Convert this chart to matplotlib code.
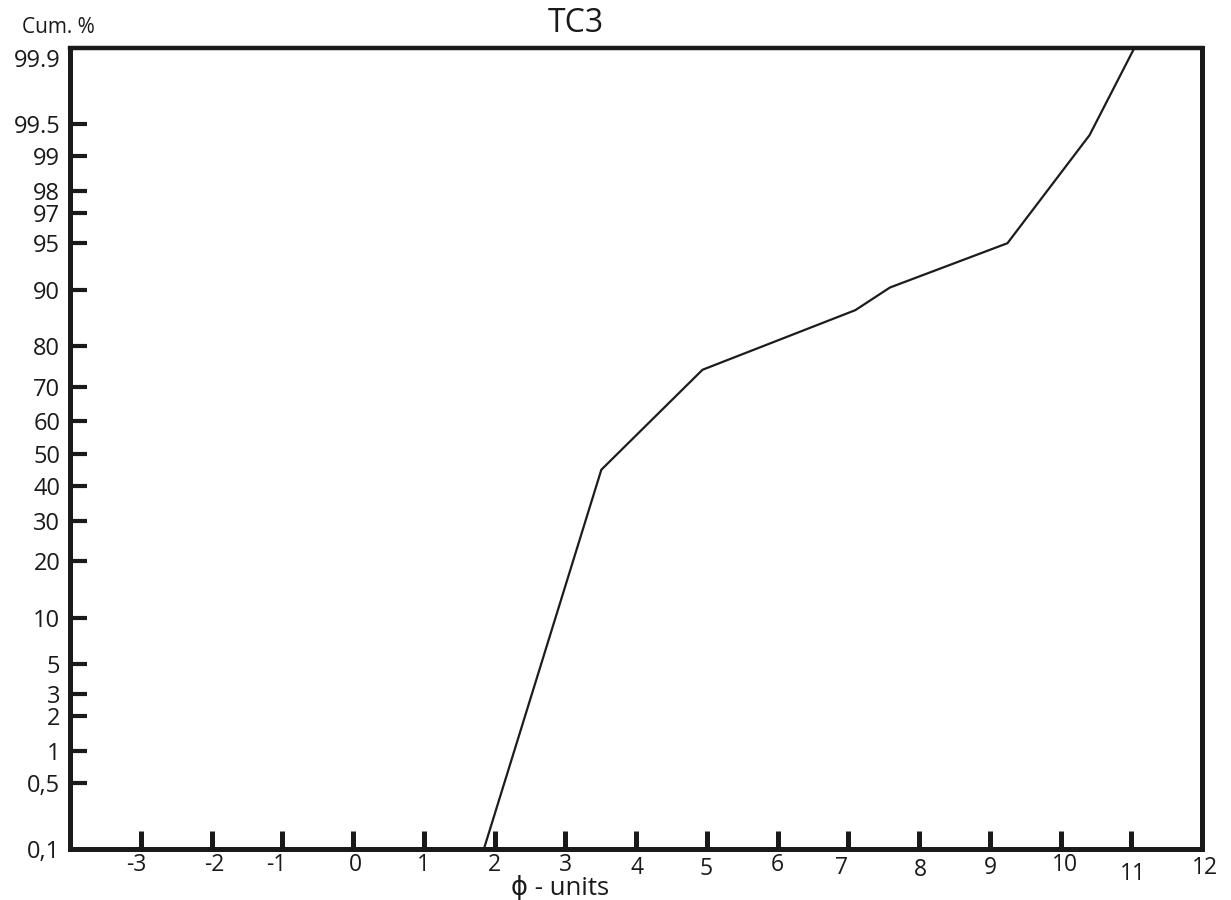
import math
import numpy as np
import matplotlib
matplotlib.use("Agg")
import matplotlib.pyplot as plt
from matplotlib.transforms import ScaledTranslation

plt.rcParams['font.family'] = ['Open Sans', 'DejaVu Sans']
plt.rcParams['axes.unicode_minus'] = False

# ---------------- data ----------------
phi_values = [1.85, 3.51, 4.94, 7.10, 7.59, 9.25, 10.41, 11.03]
cum_percent = [0.1, 45.0, 74.4, 86.9, 90.3, 95.0, 99.36, 99.92]

x_ticks = [-3, -2, -1, 0, 1, 2, 3, 4, 5, 6, 7, 8, 9, 10, 11, 12]
x_tick_labels = ["-3", "-2", "-1", "0", "1", "2", "3", "4", "5", "6", "7", "8", "9", "10", "11", "12"]
y_ticks = [0.1, 0.5, 1, 2, 3, 5, 10, 20, 30, 40, 50, 60, 70, 80, 90, 95, 97, 98, 99, 99.5, 99.9]
y_tick_labels = ["0,1", "0,5", "1", "2", "3", "5", "10", "20", "30", "40", "50", "60", "70",
                 "80", "90", "95", "97", "98", "99", "99.5", "99.9"]

title_text = "TC3"
y_title = "Cum. %"
x_title = "\u03d5 - units"


# ------------- probability scale -------------
def norm_ppf(p):
    p = np.atleast_1d(np.asarray(p, dtype=float))
    shape = p.shape
    p = np.clip(p.ravel(), 1e-12, 1 - 1e-12)
    a = [-3.969683028665376e+01, 2.209460984245205e+02, -2.759285104469687e+02,
         1.383577518672690e+02, -3.066479806614716e+01, 2.506628277459239e+00]
    b = [-5.447609879822406e+01, 1.615858368580409e+02, -1.556989798598866e+02,
         6.680131188771972e+01, -1.328068155288572e+01]
    c = [-7.784894002430293e-03, -3.223964580411365e-01, -2.400758277161838e+00,
         -2.549671010422420e+00, 4.374664141464968e+00, 2.938163982698783e+00]
    d = [7.784695709041462e-03, 3.224671290700398e-01, 2.445134137142996e+00,
         3.754408661907416e+00]
    plow = 0.02425
    out = np.empty_like(p)
    lo = p < plow
    hi = p > 1 - plow
    mid = ~(lo | hi)
    q = np.sqrt(-2 * np.log(p[lo]))
    out[lo] = (((((c[0]*q + c[1])*q + c[2])*q + c[3])*q + c[4])*q + c[5]) / \
              ((((d[0]*q + d[1])*q + d[2])*q + d[3])*q + 1)
    q = np.sqrt(-2 * np.log(1 - p[hi]))
    out[hi] = -(((((c[0]*q + c[1])*q + c[2])*q + c[3])*q + c[4])*q + c[5]) / \
              ((((d[0]*q + d[1])*q + d[2])*q + d[3])*q + 1)
    q = p[mid] - 0.5
    r = q * q
    out[mid] = (((((a[0]*r + a[1])*r + a[2])*r + a[3])*r + a[4])*r + a[5]) * q / \
               (((((b[0]*r + b[1])*r + b[2])*r + b[3])*r + b[4])*r + 1)
    return out.reshape(shape)


_erf = np.vectorize(math.erf)


def forward(y):
    return norm_ppf(np.asarray(y, dtype=float) / 100.0)


def inverse(z):
    z = np.asarray(z, dtype=float)
    return 50.0 * (1.0 + _erf(z / math.sqrt(2.0)))


# ---------------- figure ----------------
fig = plt.figure(figsize=(12.31, 9.0), dpi=100)
ax = fig.add_axes([70 / 1231, 1 - 849 / 900, (1202 - 70) / 1231, (849 - 48) / 900])

ax.set_yscale('function', functions=(forward, inverse))
ax.plot(phi_values, cum_percent, color='#1c1c1c', lw=1.6, solid_joinstyle='miter', zorder=3)

ax.set_xlim(-4.0, 12.0)
ax.set_ylim(0.1, 99.924)

ax.set_xticks(x_ticks)
ax.set_xticklabels(x_tick_labels)
ax.set_yticks(y_ticks)
ax.set_yticklabels(y_tick_labels)
ax.minorticks_off()

ax.tick_params(axis='x', direction='in', length=13, width=3.6, color='#1a1a1a',
               labelsize=16.5, pad=3, labelcolor='#1a1a1a')
ax.tick_params(axis='y', direction='in', length=12, width=3.0, color='#1a1a1a',
               labelsize=17, pad=7, labelcolor='#1a1a1a')

# hide tick marks that sit on the frame corners
for t, v in zip(ax.yaxis.get_major_ticks(), y_ticks):
    if v in (0.1, 99.9):
        t.tick1line.set_visible(False)
for t, v in zip(ax.xaxis.get_major_ticks(), x_ticks):
    if v == 12:
        t.tick1line.set_visible(False)

# slight hand-drawn irregularity of the x labels (pixel offsets)
x_label_shift = {"-3": (-4, 0), "-2": (3, 0), "-1": (-6, 0), "0": (2, 0),
                 "4": (1, -3), "5": (-1, -4), "7": (-7, -3),
                 "8": (1, -5), "9": (1, -3), "10": (4, 0), "11": (2, -9), "12": (3, -3)}
for lab in ax.get_xticklabels():
    s = lab.get_text()
    if s in x_label_shift:
        dx, dy = x_label_shift[s]
        lab.set_transform(lab.get_transform() +
                          ScaledTranslation(dx / 100, dy / 100, fig.dpi_scale_trans))

for side, sp in ax.spines.items():
    sp.set_color('#1a1a1a')
    sp.set_linewidth(3.6 if side != 'top' else 3.2)
    sp.set_capstyle('projecting')

fig.text(22 / 1231, 1 - 33 / 900, y_title, fontsize=15, color='#1a1a1a',
         ha='left', va='baseline')
fig.text(576 / 1231, 1 - 32 / 900, title_text, fontsize=23, color='#1a1a1a',
         ha='center', va='baseline')
fig.text(560 / 1231, 1 - 895 / 900, x_title, fontsize=18.5, color='#1a1a1a',
         ha='center', va='baseline')

fig.savefig("out.png", dpi=100, facecolor='white')
